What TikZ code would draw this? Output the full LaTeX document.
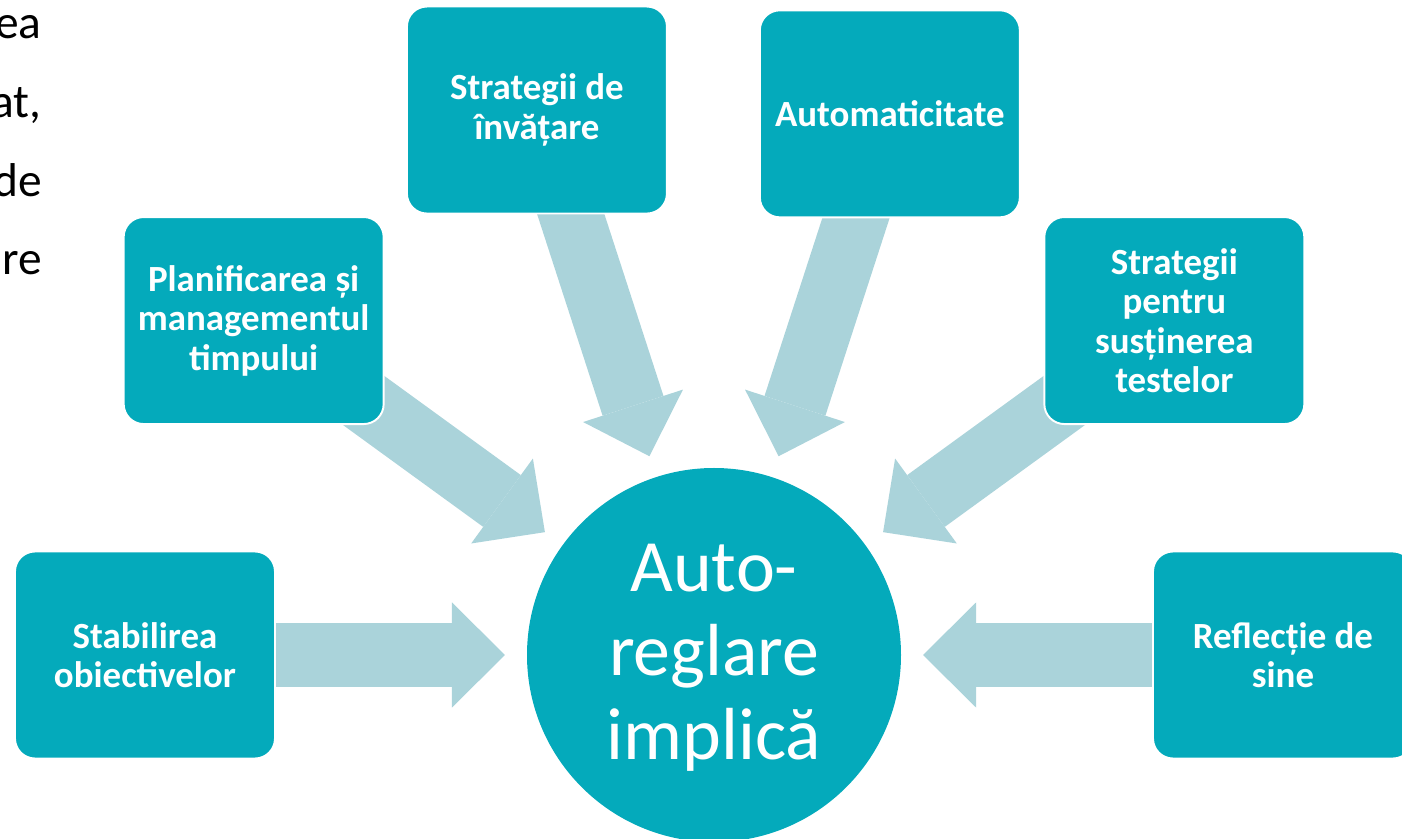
\documentclass[tikz,border=0pt]{standalone}
\usepackage{fontspec}
\setmainfont{Carlito}
\usepackage{tikz}
\usetikzlibrary{arrows.meta,backgrounds}
\definecolor{tealbox}{RGB}{4,170,187}
\definecolor{paleflow}{RGB}{170,211,218}

\begin{document}
\begin{tikzpicture}[box/.style={draw=white,line width=1.1pt,fill=tealbox,rounded corners=0.4cm,minimum width=5.2cm,minimum height=4.14cm,align=center,text=white,font=\fontsize{21}{22.5}\selectfont\bfseries},
                    flow/.style={draw=paleflow,line width=1.28cm,line cap=butt,-{Triangle[length=1.06cm,width=2.1cm,line width=0pt]},shorten <=1.9cm,shorten >=4.18cm},
                    frag/.style={anchor=base east,inner sep=0pt,font=\fontsize{27}{30}\selectfont}]
          \useasboundingbox (-14.28,-3.68) rectangle (13.76,13.1);

          \node[frag] (f1) at (-13.44,12.32) {rea};
          \node[frag] (f2) at (-13.44,10.74) {at,};
          \node[frag] (f3) at (-13.44,9.16) {de};
          \node[frag] (f4) at (-13.44,7.6) {are};

          \node[circle,fill=tealbox,minimum size=7.48cm,inner sep=0pt,text=white,align=center,font=\fontsize{42}{47.8}\selectfont] (hub) at (0,0) {\rule{0pt}{30pt}Auto-\\reglare\\implică};

          \node[box] (goals) at (180:11.38) {Stabilirea\\obiectivelor};
          \node[box] (plan) at (144:11.38) {Planificarea și\\managementul\\timpului};
          \node[box] (learn) at (108:11.46) {Strategii de\\învățare};
          \node[box] (auto) at (72:11.38) {Automaticitate};
          \node[box] (tests) at (36:11.38) {Strategii\\pentru\\susținerea\\testelor};
          \node[box] (self) at (0:11.38) {Reflecție de\\sine};

          \begin{scope}[on background layer]
            \draw[flow] (goals.center) -- (hub.center);
            \draw[flow] (plan.center) -- (hub.center);
            \draw[flow] (learn.center) -- (hub.center);
            \draw[flow] (auto.center) -- (hub.center);
            \draw[flow] (tests.center) -- (hub.center);
            \draw[flow] (self.center) -- (hub.center);
          \end{scope}
        \end{tikzpicture}
\end{document}
